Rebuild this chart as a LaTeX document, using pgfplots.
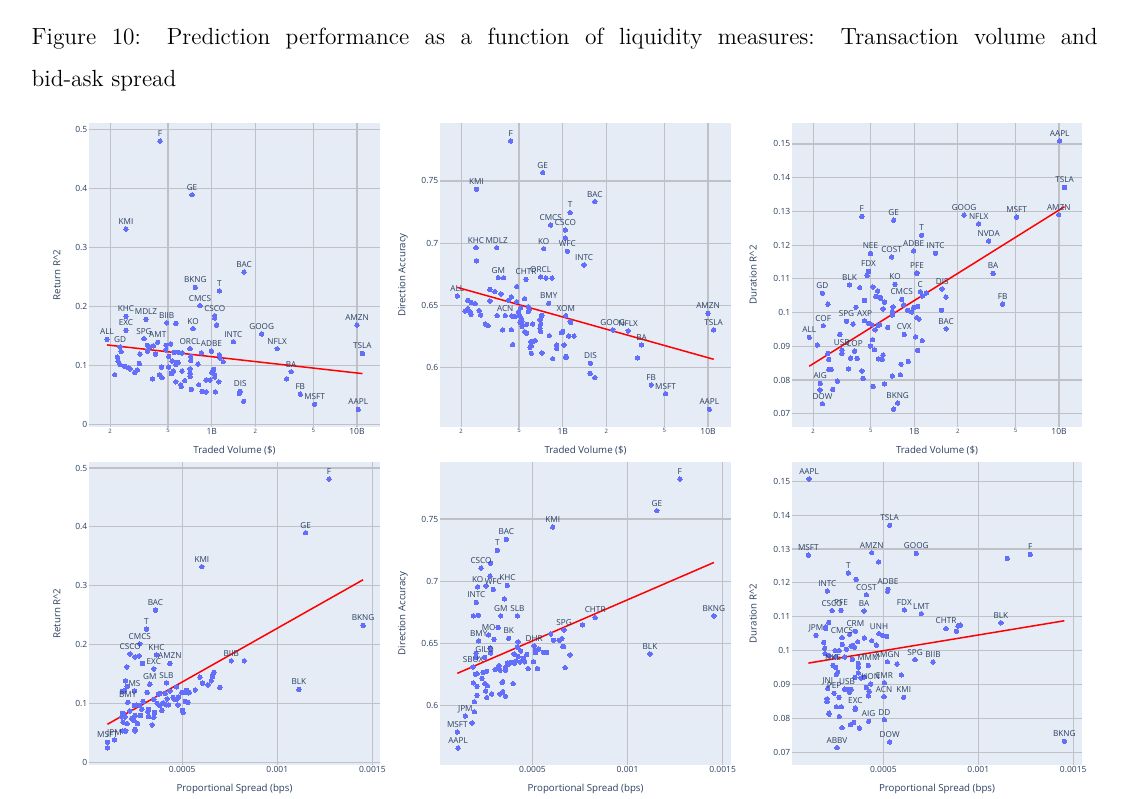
\documentclass[border=0pt]{standalone}
\usepackage{fontspec}
\usepackage{pgfplots}
\pgfplotsset{compat=1.18}
\newfontfamily\pf{Open Sans}
\newfontfamily\lmt{lmroman12-regular.otf}
\definecolor{plbg}{HTML}{E5ECF6}
\definecolor{plblue}{HTML}{636EFA}
\definecolor{pltext}{HTML}{2A3F5F}
\definecolor{plgrid}{RGB}{192,193,198}
\newcommand\tickfont{\pf\fontsize{8.5}{10}\selectfont}
\newcommand\labfont{\pf\fontsize{8.2}{9}\selectfont}
\newcommand\ttlfont{\pf\fontsize{9.7}{11}\selectfont}
\newcommand\sm{\pf\fontsize{6}{7}\selectfont}
\pgfplotsset{
  plbase/.style={
    scale only axis, clip=false,
    axis background/.style={fill=plbg},
    axis line style={draw=none},
    major tick length=0pt, tick style={draw=none},
    xmajorgrids, ymajorgrids,
    grid style={color=plgrid, line width=1.2pt},
    tick label style={font=\tickfont, text=pltext},
    xticklabel style={inner ysep=1.5pt},
    yticklabel style={inner xsep=1.5pt},
    scaled x ticks=false, scaled y ticks=false,
    every axis x label/.style={at={(rel axis cs:0.5,0)}, anchor=center, yshift=-24pt, font=\ttlfont, text=pltext},
    every axis y label/.style={at={(rel axis cs:0,0.5)}, anchor=center, rotate=90, font=\ttlfont, text=pltext},
  },
  volx/.style={xmin=0.143, xmax=14.4,
    xtick={0.2,0.5,1,2,5,10}, xticklabels={\sm 2,\sm 5,1B,\sm 2,\sm 5,10B},
    xlabel={Traded Volume (\$)}},
  sprx/.style={xtick={0.0005,0.001,0.0015}, xticklabels={0.0005,0.001,0.0015},
    xlabel={Proportional Spread (bps)}},
  rety/.style={ytick={0,0.1,0.2,0.3,0.4,0.5}, yticklabels={0,0.1,0.2,0.3,0.4,0.5},
    ylabel={Return R\textasciicircum 2}, every axis y label/.append style={yshift=32pt}},
  diry/.style={ytick={0.6,0.65,0.7,0.75}, yticklabels={0.6,0.65,0.7,0.75},
    ylabel={Direction Accuracy}, every axis y label/.append style={yshift=37pt}},
  dury/.style={ytick={0.07,0.08,0.09,0.1,0.11,0.12,0.13,0.14,0.15},
    yticklabels={0.07,0.08,0.09,0.1,0.11,0.12,0.13,0.14,0.15},
    ylabel={Duration R\textasciicircum 2}, every axis y label/.append style={yshift=39pt}},
  ptsty/.style={only marks, mark=*, mark size=2.2pt, color=plblue,
    mark options={draw=plblue, fill=plblue, line width=0pt}},
  labsty/.style={ptsty, nodes near coords, point meta=explicit symbolic,
    every node near coord/.append style={anchor=base, yshift=4.6pt, inner sep=0pt, font=\labfont, text=pltext}},
  trendsty/.style={no marks, color=red, line width=1.5pt},
}
\begin{document}
\begin{tikzpicture}
\path[use as bounding box] (0pt,0pt) rectangle (1129pt,799pt);
\node[anchor=base west, inner sep=0pt] at (31.5pt,754.5pt)
  {\lmt\fontsize{23.4}{28}\selectfont\makebox[1066pt][s]{Figure 10: Prediction performance as a function of liquidity measures: Transaction volume and}};
\node[anchor=base west, inner sep=0pt] at (31.5pt,712pt)
  {\lmt\fontsize{23.4}{28}\selectfont bid-ask spread};

% ---------- Return R^2 vs volume
\begin{axis}[xmode=log, plbase, volx, rety, at={(89pt,372pt)}, anchor=south west, width=291pt, height=304pt,
  ymin=-0.0046, ymax=0.5107]
\addplot[ptsty] table {
1.05 0.180
1.08 0.168
0.566 0.171
0.849 0.121
0.238 0.123
0.224 0.114
0.227 0.107
0.234 0.101
0.215 0.084
0.252 0.098
0.268 0.096
0.274 0.094
0.295 0.088
0.308 0.092
0.318 0.103
0.320 0.119
0.361 0.134
0.361 0.124
0.376 0.131
0.397 0.133
0.410 0.119
0.391 0.077
0.437 0.084
0.451 0.097
0.455 0.079
0.483 0.126
0.485 0.134
0.506 0.115
0.506 0.097
0.522 0.136
0.534 0.107
0.528 0.086
0.545 0.090
0.551 0.122
0.566 0.101
0.571 0.105
0.587 0.105
0.590 0.122
0.625 0.121
0.625 0.090
0.612 0.067
0.618 0.064
0.652 0.074
0.566 0.072
0.709 0.094
0.709 0.086
0.709 0.081
0.717 0.115
0.717 0.108
0.725 0.059
0.805 0.102
0.814 0.067
0.858 0.056
0.914 0.075
0.914 0.055
0.974 0.075
1.00 0.088
1.03 0.093
1.05 0.084
1.05 0.080
1.06 0.055
1.12 0.072
1.13 0.118
1.14 0.112
1.20 0.106
3.28 0.077
1.55 0.052
1.66 0.039
};
\addplot[labsty] table[meta=label] {
x y label
0.441 0.480 F
0.732 0.389 GE
0.257 0.331 KMI
1.67 0.258 BAC
0.772 0.232 BKNG
1.13 0.226 T
0.831 0.201 CMCS
1.05 0.184 CSCO
0.257 0.183 KHC
0.353 0.178 MDLZ
0.490 0.172 BIIB
0.744 0.162 KO
0.257 0.159 EXC
10.0 0.168 AMZN
2.21 0.153 GOOG
0.190 0.144 ALL
0.342 0.145 SPG
0.425 0.139 AMT
1.41 0.140 INTC
0.709 0.128 ORCL
0.995 0.124 ADBE
2.82 0.128 NFLX
10.9 0.120 TSLA
0.234 0.131 GD
3.52 0.089 BA
1.57 0.056 DIS
4.07 0.051 FB
5.11 0.034 MSFT
10.2 0.025 AAPL
};
\addplot[trendsty] coordinates {(0.190,0.1345) (10.9,0.0859)};
\end{axis}

% ---------- Direction accuracy vs volume
\begin{axis}[xmode=log, plbase, volx, diry, at={(440pt,372pt)}, anchor=south west, width=291pt, height=304pt,
  ymin=0.5523, ymax=0.7966]
\addplot[ptsty] table {
1.043 0.7042
0.255 0.6857
0.392 0.6723
0.767 0.6720
0.844 0.6720
0.482 0.6651
0.315 0.6629
0.341 0.6611
0.376 0.6592
0.547 0.6554
0.443 0.6568
0.424 0.6541
0.482 0.6530
0.513 0.6482
0.580 0.6490
0.589 0.6469
0.580 0.6450
0.497 0.6450
0.502 0.6423
0.519 0.6396
0.524 0.6370
0.508 0.6364
0.524 0.6332
0.547 0.6289
0.565 0.6276
0.565 0.6348
0.621 0.6351
0.720 0.6420
0.713 0.6412
0.698 0.6386
0.705 0.6348
0.698 0.6316
0.705 0.6289
0.602 0.6209
0.621 0.6209
0.648 0.6217
0.595 0.6163
0.608 0.6174
0.608 0.6115
0.720 0.6118
0.809 0.6257
0.853 0.6072
0.909 0.6182
0.909 0.6155
0.979 0.6281
1.000 0.6292
1.000 0.6287
1.021 0.6182
1.054 0.6091
1.054 0.6080
1.100 0.6254
1.124 0.6370
1.136 0.6364
1.197 0.6254
0.315 0.6536
0.354 0.6418
0.447 0.6415
0.472 0.6410
0.443 0.6305
0.386 0.6303
0.452 0.6185
0.293 0.6351
0.306 0.6337
0.266 0.6458
0.272 0.6423
0.250 0.6514
0.234 0.6429
0.230 0.6450
0.222 0.6474
0.213 0.6455
0.222 0.6541
0.234 0.6525
3.273 0.6078
1.543 0.5954
1.663 0.5920
};
\addplot[labsty] table[meta=label] {
x y label
0.438 0.7821 F
0.728 0.7567 GE
0.255 0.7433 KMI
1.663 0.7334 BAC
1.124 0.7246 T
0.827 0.7146 CMCS
1.043 0.7106 CSCO
0.740 0.6956 KO
1.077 0.6935 WFC
0.253 0.6964 KHC
0.351 0.6964 MDLZ
1.403 0.6825 INTC
0.360 0.6723 GM
0.559 0.6710 CHTR
0.705 0.6729 ORCL
0.188 0.6576 ALL
0.801 0.6517 BMY
0.402 0.6418 ACN
1.049 0.6418 XOM
2.212 0.6303 GOOG
2.822 0.6295 NFLX
3.487 0.6182 BA
10.0 0.6437 AMZN
10.94 0.6303 TSLA
1.551 0.6035 DIS
4.066 0.5861 FB
5.105 0.5791 MSFT
10.21 0.5665 AAPL
};
\addplot[trendsty] coordinates {(0.188,0.6645) (10.94,0.6067)};
\end{axis}

% ---------- Duration R^2 vs volume
\begin{axis}[xmode=log, plbase, volx, dury, at={(792pt,372pt)}, anchor=south west, width=290pt, height=304pt,
  ymin=0.0661, ymax=0.1562]
\addplot[ptsty] table {
0.472 0.1110
1.043 0.1116
0.253 0.1025
0.420 0.1074
0.517 0.1076
0.453 0.1036
0.559 0.1064
0.542 0.1048
0.577 0.1045
0.584 0.1043
0.622 0.1031
0.609 0.1011
0.395 0.1016
1.135 0.1049
1.209 0.1058
1.652 0.1046
1.542 0.1007
0.845 0.1023
0.713 0.1017
0.706 0.1003
0.706 0.0999
0.706 0.0993
0.900 0.1007
0.959 0.1002
0.989 0.1015
1.054 0.1018
1.043 0.0985
1.077 0.0981
0.378 0.0966
0.483 0.0968
0.509 0.0964
0.536 0.0949
0.565 0.0962
0.577 0.0964
0.655 0.0956
1.021 0.0928
1.135 0.0917
1.054 0.0888
0.306 0.0935
0.214 0.0904
0.316 0.0878
0.514 0.0920
0.498 0.0901
0.531 0.0890
0.565 0.0863
0.602 0.0861
0.609 0.0874
0.363 0.0865
0.403 0.0864
0.253 0.0879
0.256 0.0861
0.257 0.0832
0.267 0.0832
0.351 0.0833
0.434 0.0827
0.443 0.0805
0.294 0.0797
0.273 0.0772
0.223 0.0771
0.519 0.0781
0.622 0.0789
0.706 0.0812
0.801 0.0816
0.810 0.0847
0.909 0.0855
0.721 0.0714
};
\addplot[labsty] table[meta=label] {
x y label
10.1 0.1509 AAPL
10.9 0.1371 TSLA
0.434 0.1285 F
0.721 0.1274 GE
2.208 0.1289 GOOG
2.786 0.1263 NFLX
5.087 0.1283 MSFT
9.95 0.1290 AMZN
1.123 0.1229 T
3.265 0.1212 NVDA
0.498 0.1175 NEE
0.698 0.1165 COST
0.989 0.1183 ADBE
1.402 0.1176 INTC
0.483 0.1122 FDX
1.043 0.1118 PFE
3.497 0.1116 BA
0.736 0.1084 KO
0.357 0.1082 BLK
0.232 0.1057 GD
1.100 0.1062 C
1.558 0.1070 DIS
4.074 0.1025 FB
0.818 0.1039 CMCS
0.340 0.0974 SPG
0.453 0.0976 AXP
0.235 0.0961 COF
0.188 0.0927 ALL
1.660 0.0952 BAC
0.853 0.0935 CVX
0.316 0.0889 USB
0.387 0.0886 COP
0.224 0.0790 AIG
0.232 0.0730 DOW
0.768 0.0732 BKNG
};
\addplot[trendsty] coordinates {(0.188,0.0841) (10.9,0.1314)};
\end{axis}

% ---------- Return R^2 vs spread
\begin{axis}[plbase, sprx, rety, at={(89pt,34pt)}, anchor=south west, width=291pt, height=303pt,
  xmin=0.00001, xmax=0.00154, ymin=-0.0046, ymax=0.5102]
\addplot[ptsty] table {
2.912e-4 0.1678
2.088e-4 0.1621
8.263e-4 0.1723
2.526e-4 0.1791
2.737e-4 0.1808
2.105e-4 0.1287
2.018e-4 0.1383
1.982e-4 0.1224
1.860e-4 0.1202
3.158e-4 0.1185
3.509e-4 0.1071
3.754e-4 0.1156
3.825e-4 0.1168
4.105e-4 0.1168
4.211e-4 0.1077
4.351e-4 0.1213
4.702e-4 0.1281
4.982e-4 0.1190
5.123e-4 0.1190
5.158e-4 0.1032
5.298e-4 0.1015
5.333e-4 0.1179
5.368e-4 0.1190
5.228e-4 0.1219
5.018e-4 0.0879
5.053e-4 0.0845
5.684e-4 0.1230
5.930e-4 0.1446
6.070e-4 0.1344
6.351e-4 0.1315
6.526e-4 0.1383
6.596e-4 0.1457
6.667e-4 0.1525
6.982e-4 0.1270
4.526e-4 0.1100
4.596e-4 0.1071
4.737e-4 0.1077
4.772e-4 0.0975
4.807e-4 0.1111
4.281e-4 0.0975
4.175e-4 0.0975
3.930e-4 0.0879
4.000e-4 0.1009
3.684e-4 0.1003
3.544e-4 0.0845
3.509e-4 0.0765
3.421e-4 0.0635
3.228e-4 0.0777
3.193e-4 0.0862
3.228e-4 0.0901
2.877e-4 0.0901
2.772e-4 0.0964
2.947e-4 0.1032
2.807e-4 0.0794
2.596e-4 0.0975
2.526e-4 0.0794
2.649e-4 0.0658
2.491e-4 0.0964
2.246e-4 0.0873
2.351e-4 0.0748
2.456e-4 0.0714
2.526e-4 0.0533
2.526e-4 0.0561
2.105e-4 0.0658
2.000e-4 0.0771
1.930e-4 0.0816
1.860e-4 0.0828
1.825e-4 0.0771
1.895e-4 0.0680
1.965e-4 0.0533
1.860e-4 0.0533
2.035e-4 0.0533
1.070e-4 0.0244
3.825e-4 0.0964
};
\addplot[labsty] table[meta=label] {
x y label
12.72e-4 0.4813 F
11.49e-4 0.3900 GE
6.035e-4 0.3322 KMI
14.51e-4 0.2324 BKNG
3.596e-4 0.2585 BAC
3.123e-4 0.2262 T
2.772e-4 0.2012 CMCS
2.263e-4 0.1842 CSCO
3.649e-4 0.1825 KHC
4.351e-4 0.1678 AMZN
3.509e-4 0.1587 EXC
7.579e-4 0.1723 BIIB
11.14e-4 0.1236 BLK
3.298e-4 0.1327 GM
4.175e-4 0.1349 SLB
2.491e-4 0.1213 MS
2.140e-4 0.1020 BMY
1.070e-4 0.0340 MSFT
1.439e-4 0.0380 JPM
};
\addplot[trendsty] coordinates {(1.070e-4,0.0646) (14.51e-4,0.3101)};
\end{axis}

% ---------- Direction accuracy vs spread
\begin{axis}[plbase, sprx, diry, at={(440pt,34pt)}, anchor=south west, width=291pt, height=303pt,
  xmin=0.000014, xmax=0.001544, ymin=0.5523, ymax=0.7959]
\addplot[ptsty] table {
2.807e-4 0.7146
2.772e-4 0.7041
2.561e-4 0.6963
3.526e-4 0.6859
1.895e-4 0.6722
2.158e-4 0.6727
7.632e-4 0.6649
3.193e-4 0.6628
2.982e-4 0.6534
5.965e-4 0.6577
6.105e-4 0.6526
6.404e-4 0.6526
6.544e-4 0.6539
6.596e-4 0.6478
6.982e-4 0.6408
5.737e-4 0.6427
2.772e-4 0.6462
2.807e-4 0.6424
2.035e-4 0.6421
2.035e-4 0.6387
4.246e-4 0.6513
4.211e-4 0.6470
4.386e-4 0.6440
4.035e-4 0.6416
5.158e-4 0.6451
5.333e-4 0.6456
5.158e-4 0.6427
4.702e-4 0.6411
4.596e-4 0.6352
4.526e-4 0.6381
4.246e-4 0.6395
4.140e-4 0.6360
4.070e-4 0.6341
3.895e-4 0.6349
3.754e-4 0.6333
4.351e-4 0.6352
4.772e-4 0.6298
5.053e-4 0.6354
3.684e-4 0.6344
3.579e-4 0.6306
3.579e-4 0.6285
3.246e-4 0.6322
3.298e-4 0.6285
3.035e-4 0.6290
3.193e-4 0.6301
2.596e-4 0.6277
2.404e-4 0.6268
2.088e-4 0.6258
2.000e-4 0.6252
5.263e-4 0.6298
6.719e-4 0.6306
5.579e-4 0.6429
6.632e-4 0.6475
3.404e-4 0.6185
3.439e-4 0.6193
3.982e-4 0.6177
3.298e-4 0.6094
3.579e-4 0.6075
3.439e-4 0.6113
1.895e-4 0.6183
2.088e-4 0.6156
2.351e-4 0.6220
2.632e-4 0.6161
2.491e-4 0.6177
2.544e-4 0.6118
2.596e-4 0.6065
2.860e-4 0.6094
2.088e-4 0.6083
1.947e-4 0.6032
1.947e-4 0.5952
1.825e-4 0.5861
};
\addplot[labsty] table[meta=label] {
x y label
12.75e-4 0.7822 F
11.54e-4 0.7567 GE
6.070e-4 0.7436 KMI
3.632e-4 0.7336 BAC
3.158e-4 0.7248 T
2.298e-4 0.7106 CSCO
3.684e-4 0.6966 KHC
2.123e-4 0.6955 KO
2.947e-4 0.6934 WFC
2.053e-4 0.6829 INTC
3.333e-4 0.6722 GM
4.211e-4 0.6722 SLB
14.54e-4 0.6722 BKNG
8.298e-4 0.6708 CHTR
6.667e-4 0.6609 SPG
2.702e-4 0.6569 MO
2.175e-4 0.6521 BMY
3.754e-4 0.6542 BK
5.088e-4 0.6480 DHR
11.18e-4 0.6416 BLK
2.491e-4 0.6387 GILD
1.877e-4 0.6311 SBUX
1.474e-4 0.5917 JPM
1.053e-4 0.5788 MSFT
1.088e-4 0.5659 AAPL
};
\addplot[trendsty] coordinates {(1.053e-4,0.6260) (14.54e-4,0.7151)};
\end{axis}

% ---------- Duration R^2 vs spread
\begin{axis}[plbase, sprx, dury, at={(792pt,34pt)}, anchor=south west, width=290pt, height=303pt,
  xmin=0.000019, xmax=0.001546, ymin=0.0662, ymax=0.1557]
\addplot[ptsty] table {
11.53e-4 0.1272
4.754e-4 0.1262
3.561e-4 0.1210
5.228e-4 0.1175
2.123e-4 0.1083
1.965e-4 0.1070
1.965e-4 0.1065
3.228e-4 0.1048
4.982e-4 0.1044
5.175e-4 0.1042
8.930e-4 0.1072
9.053e-4 0.1075
8.842e-4 0.1057
3.649e-4 0.1026
4.000e-4 0.1037
4.386e-4 0.1029
4.632e-4 0.1016
1.860e-4 0.1024
1.912e-4 0.1007
1.930e-4 0.0991
2.456e-4 0.1000
2.667e-4 0.1000
2.842e-4 0.1018
3.053e-4 0.1004
3.298e-4 0.1013
3.386e-4 0.1015
3.474e-4 0.1010
2.491e-4 0.0982
2.965e-4 0.0981
2.140e-4 0.0985
3.368e-4 0.0974
3.684e-4 0.0962
3.684e-4 0.0951
5.719e-4 0.0960
2.491e-4 0.0950
2.596e-4 0.0936
2.526e-4 0.0929
3.684e-4 0.0934
3.509e-4 0.0921
3.825e-4 0.0919
4.000e-4 0.0922
5.947e-4 0.0928
4.105e-4 0.0891
4.246e-4 0.0879
4.211e-4 0.0866
2.667e-4 0.0862
2.965e-4 0.0886
3.298e-4 0.0885
3.211e-4 0.0877
3.509e-4 0.0826
2.526e-4 0.0834
2.789e-4 0.0834
2.035e-4 0.0857
2.035e-4 0.0849
2.140e-4 0.0815
2.140e-4 0.0812
2.684e-4 0.0805
3.439e-4 0.0788
3.263e-4 0.0781
3.737e-4 0.0771
2.825e-4 0.0772
};
\addplot[labsty] table[meta=label] {
x y label
1.088e-4 0.1507 AAPL
5.333e-4 0.1370 TSLA
1.053e-4 0.1282 MSFT
4.386e-4 0.1289 AMZN
6.737e-4 0.1287 GOOG
12.74e-4 0.1284 F
3.158e-4 0.1229 T
2.053e-4 0.1176 INTC
4.105e-4 0.1165 COST
5.246e-4 0.1181 ADBE
2.298e-4 0.1118 CSCO
2.772e-4 0.1119 PFE
3.982e-4 0.1117 BA
6.105e-4 0.1120 FDX
7.000e-4 0.1109 LMT
11.19e-4 0.1082 BLK
8.298e-4 0.1065 CHTR
1.456e-4 0.1045 JPM
3.526e-4 0.1057 CRM
2.825e-4 0.1038 CMCS
4.772e-4 0.1050 UNH
2.351e-4 0.0956 NKE
4.211e-4 0.0956 MMM
5.211e-4 0.0967 AMGN
6.667e-4 0.0973 SPG
7.614e-4 0.0966 BIIB
4.333e-4 0.0901 HON
5.053e-4 0.0905 EMR
2.070e-4 0.0888 JNJ
2.404e-4 0.0874 PEP
3.088e-4 0.0885 USB
5.035e-4 0.0864 ACN
6.070e-4 0.0862 KMI
3.526e-4 0.0831 EXC
4.228e-4 0.0791 AIG
5.053e-4 0.0796 DD
5.333e-4 0.0730 DOW
14.53e-4 0.0732 BKNG
2.561e-4 0.0713 ABBV
};
\addplot[trendsty] coordinates {(1.053e-4,0.0963) (14.53e-4,0.1088)};
\end{axis}
\end{tikzpicture}
\end{document}
